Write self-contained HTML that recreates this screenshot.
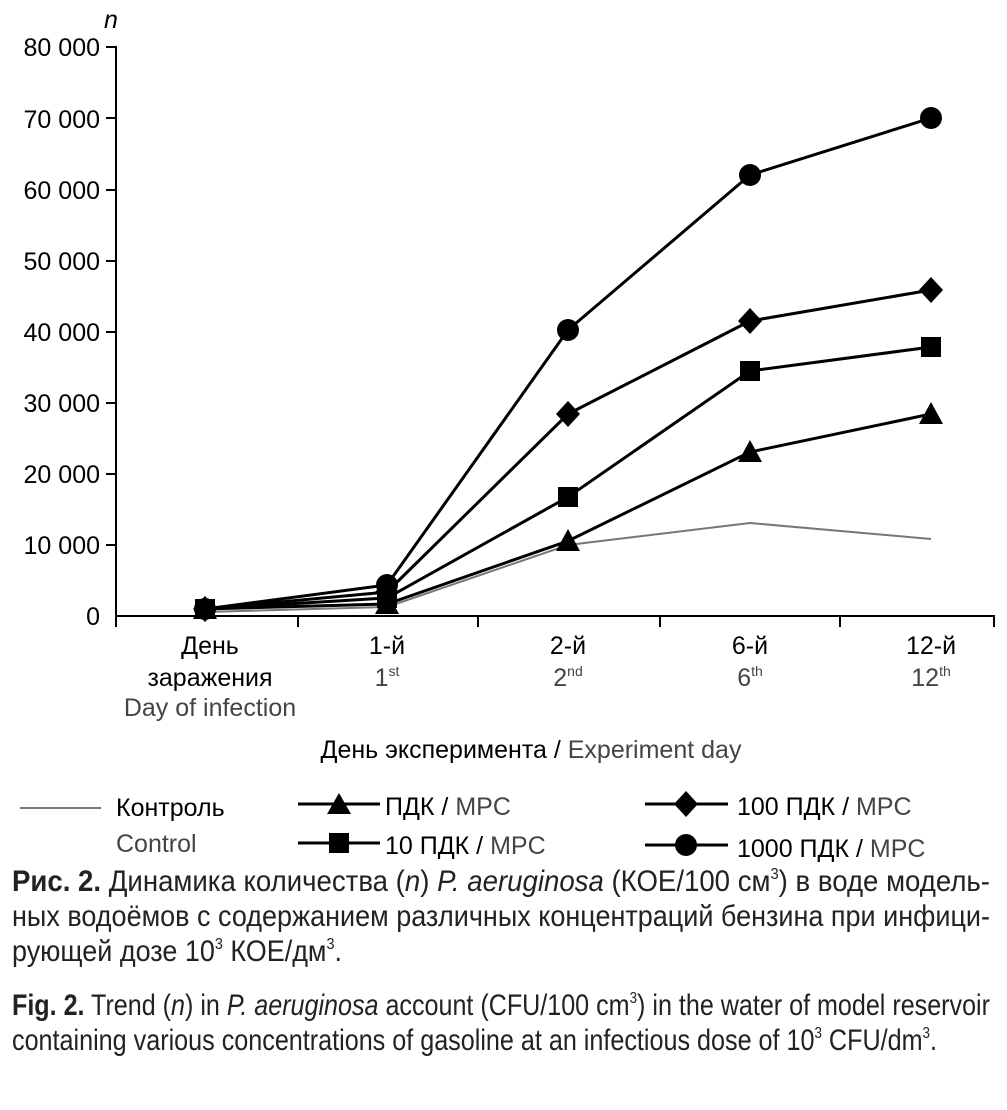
<!DOCTYPE html>
<html><head><meta charset="utf-8"><style>body{margin:0;background:#fff}svg{display:block}</style></head><body>
<svg width="1007" height="1110" viewBox="0 0 1007 1110" xmlns="http://www.w3.org/2000/svg" font-family="Liberation Sans, sans-serif">
<g stroke="#000" stroke-width="2" fill="none">
<line x1="116" y1="46" x2="116" y2="617"/>
<line x1="115" y1="616" x2="995" y2="616"/>
<g><line x1="106" y1="47" x2="116" y2="47"/><line x1="106" y1="118" x2="116" y2="118"/><line x1="106" y1="190" x2="116" y2="190"/><line x1="106" y1="261" x2="116" y2="261"/><line x1="106" y1="332" x2="116" y2="332"/><line x1="106" y1="403" x2="116" y2="403"/><line x1="106" y1="474" x2="116" y2="474"/><line x1="106" y1="545" x2="116" y2="545"/>
<line x1="116" y1="616" x2="116" y2="627"/><line x1="298" y1="616" x2="298" y2="627"/><line x1="478" y1="616" x2="478" y2="627"/><line x1="660" y1="616" x2="660" y2="627"/><line x1="840" y1="616" x2="840" y2="627"/><line x1="994" y1="616" x2="994" y2="627"/></g>
</g>
<g font-size="25" text-anchor="end" fill="#000">
<text x="100" y="56">80 000</text><text x="100" y="128">70 000</text><text x="100" y="199">60 000</text><text x="100" y="270">50 000</text><text x="100" y="341">40 000</text><text x="100" y="412">30 000</text><text x="100" y="483">20 000</text><text x="100" y="554">10 000</text><text x="100" y="625">0</text>
</g>
<text x="104" y="28" font-size="25" font-style="italic">n</text>
<polyline points="205,612 387,607 568,545 750,523 931,539" stroke="#777" stroke-width="2" fill="none"/>
<g stroke="#000" stroke-width="3" fill="none">
<polyline points="205,609 387,604 568,541 750,452 931,414"/>
<polyline points="205,609 387,598 568,497 750,371 931,347"/>
<polyline points="205,609 387,592 568,414 750,321 931,290"/>
<polyline points="205,609 387,585 568,330 750,175 931,118"/>
</g>
<g fill="#000">
<polygon points="205,597 217,619 193,619"/><polygon points="387,592 399,614 375,614"/><polygon points="568,529 580,551 556,551"/><polygon points="750,440 762,462 738,462"/><polygon points="931,402 943,424 919,424"/>
<rect x="195" y="599" width="20" height="20"/><rect x="377" y="588" width="20" height="20"/><rect x="558" y="487" width="20" height="20"/><rect x="740" y="361" width="20" height="20"/><rect x="921" y="337" width="20" height="20"/>
<polygon points="205,596 217,609 205,622 193,609"/><polygon points="387,579 399,592 387,605 375,592"/><polygon points="568,401 580,414 568,427 556,414"/><polygon points="750,308 762,321 750,334 738,321"/><polygon points="931,277 943,290 931,303 919,290"/>
<circle cx="205" cy="609" r="11"/><circle cx="387" cy="585" r="11"/><circle cx="568" cy="330" r="11"/><circle cx="750" cy="175" r="11"/><circle cx="931" cy="118" r="11"/>
</g>
<g font-size="25" text-anchor="middle">
<text x="210" y="654">День</text><text x="210" y="686">заражения</text><text x="210" y="716" fill="#444">Day of infection</text>
<text x="387" y="654">1-й</text><text x="387" y="686" fill="#444">1<tspan font-size="14" dy="-10">st</tspan></text>
<text x="568" y="654">2-й</text><text x="568" y="686" fill="#444">2<tspan font-size="14" dy="-10">nd</tspan></text>
<text x="750" y="654">6-й</text><text x="750" y="686" fill="#444">6<tspan font-size="14" dy="-10">th</tspan></text>
<text x="931" y="654">12-й</text><text x="931" y="686" fill="#444">12<tspan font-size="14" dy="-10">th</tspan></text>
<text x="531" y="758">День эксперимента / <tspan fill="#444">Experiment day</tspan></text>
</g>
<line x1="20" y1="808" x2="101" y2="808" stroke="#777" stroke-width="2"/>
<text x="116" y="816" font-size="25">Контроль</text><text x="116" y="852" font-size="25" fill="#444">Control</text>
<g stroke="#000" stroke-width="3"><line x1="298" y1="804" x2="380" y2="804"/><line x1="298" y1="843" x2="380" y2="843"/><line x1="645" y1="804" x2="728" y2="804"/><line x1="645" y1="845" x2="728" y2="845"/></g>
<g fill="#000"><polygon points="339,793 351,814 327,814"/><rect x="329" y="833" width="20" height="20"/><polygon points="686,791 698,804 686,817 674,804"/><circle cx="686" cy="845" r="11"/></g>
<g font-size="25"><text x="385" y="815">ПДК / <tspan fill="#444">MPC</tspan></text><text x="385" y="854">10 ПДК / <tspan fill="#444">MPC</tspan></text><text x="737" y="815">100 ПДК / <tspan fill="#444">MPC</tspan></text><text x="737" y="857">1000 ПДК / <tspan fill="#444">MPC</tspan></text></g>
<g font-size="30" fill="#222">
<text x="12" y="891" textLength="978" lengthAdjust="spacingAndGlyphs"><tspan font-weight="bold">Рис. 2.</tspan> Динамика количества (<tspan font-style="italic">n</tspan>) <tspan font-style="italic">P. aeruginosa</tspan> (КОЕ/100 см<tspan font-size="16" dy="-12">3</tspan><tspan dy="12">) в воде модель-</tspan></text>
<text x="12" y="926" textLength="978" lengthAdjust="spacingAndGlyphs">ных водоёмов с содержанием различных концентраций бензина при инфици-</text>
<text x="12" y="961" textLength="330" lengthAdjust="spacingAndGlyphs">рующей дозе 10<tspan font-size="16" dy="-12">3</tspan><tspan dy="12"> КОЕ/дм</tspan><tspan font-size="16" dy="-12">3</tspan><tspan dy="12">.</tspan></text>
<text x="12" y="1015" textLength="978" lengthAdjust="spacingAndGlyphs"><tspan font-weight="bold">Fig. 2.</tspan> Trend (<tspan font-style="italic">n</tspan>) in <tspan font-style="italic">P. aeruginosa</tspan> account (CFU/100 cm<tspan font-size="16" dy="-12">3</tspan><tspan dy="12">) in the water of model reservoir</tspan></text>
<text x="12" y="1050" textLength="925" lengthAdjust="spacingAndGlyphs">containing various concentrations of gasoline at an infectious dose of 10<tspan font-size="16" dy="-12">3</tspan><tspan dy="12"> CFU/dm</tspan><tspan font-size="16" dy="-12">3</tspan><tspan dy="12">.</tspan></text>
</g>
</svg>
</body></html>
